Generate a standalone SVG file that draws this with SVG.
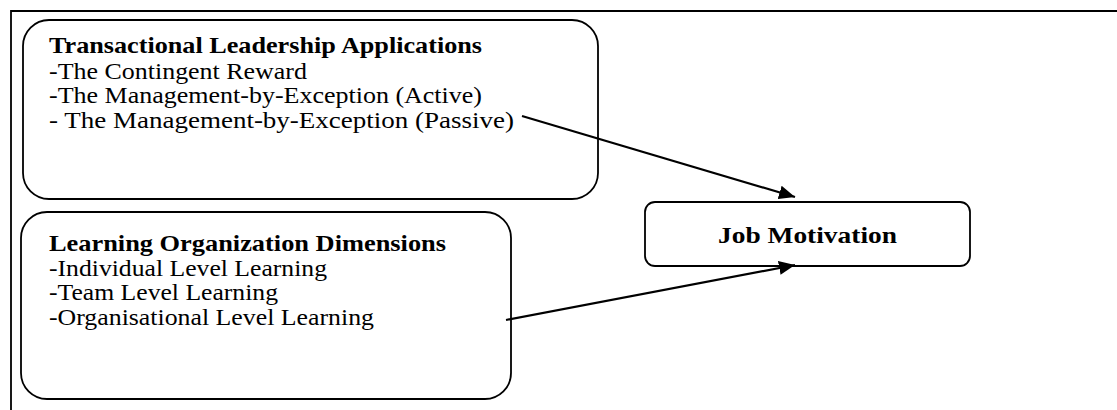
<svg xmlns="http://www.w3.org/2000/svg" width="1117" height="410" viewBox="0 0 1117 410">
<style>
.box{fill:#fff;stroke:#000;stroke-width:1.8}
.t{font-family:"Liberation Serif","Times New Roman",serif;font-size:23px;fill:#000}
.b{font-weight:bold}
.frame{stroke:#000;stroke-width:1.8;fill:none}
.conn{stroke:#000;stroke-width:2.2;fill:none}
</style>
<defs>
<marker id="arr" viewBox="0 0 16 14" refX="16" refY="7" markerWidth="16" markerHeight="14" markerUnits="userSpaceOnUse" orient="auto">
<path d="M0,0 L16,7 L0,14 z" fill="#000"/>
</marker>
</defs>
<path class="frame" d="M11,410 V11 H1117"/>
<g id="transactional">
<rect class="box" x="23" y="20" width="575" height="179" rx="26"/>
<text class="t b" x="49" y="53" textLength="433" lengthAdjust="spacingAndGlyphs">Transactional Leadership Applications</text>
<text class="t" x="49" y="79" textLength="258" lengthAdjust="spacingAndGlyphs">-The Contingent Reward</text>
<text class="t" x="49" y="103" textLength="433" lengthAdjust="spacingAndGlyphs">-The Management-by-Exception (Active)</text>
<text class="t" x="49" y="128" textLength="465" lengthAdjust="spacingAndGlyphs">- The Management-by-Exception (Passive)</text>
</g>
<g id="learning">
<rect class="box" x="21" y="212" width="490" height="187" rx="26"/>
<text class="t b" x="49" y="251" textLength="397" lengthAdjust="spacingAndGlyphs">Learning Organization Dimensions</text>
<text class="t" x="49" y="276" textLength="278" lengthAdjust="spacingAndGlyphs">-Individual Level Learning</text>
<text class="t" x="49" y="300" textLength="229" lengthAdjust="spacingAndGlyphs">-Team Level Learning</text>
<text class="t" x="49" y="325" textLength="325" lengthAdjust="spacingAndGlyphs">-Organisational Level Learning</text>
</g>
<g id="job">
<rect class="box" x="645" y="202" width="325" height="64" rx="10"/>
<text class="t b" x="718" y="243" textLength="179" lengthAdjust="spacingAndGlyphs">Job Motivation</text>
</g>
<g id="connectors">
<line class="conn" x1="522" y1="116" x2="795" y2="197" marker-end="url(#arr)"/>
<line class="conn" x1="506" y1="320" x2="795" y2="265" marker-end="url(#arr)"/>
</g>
</svg>
